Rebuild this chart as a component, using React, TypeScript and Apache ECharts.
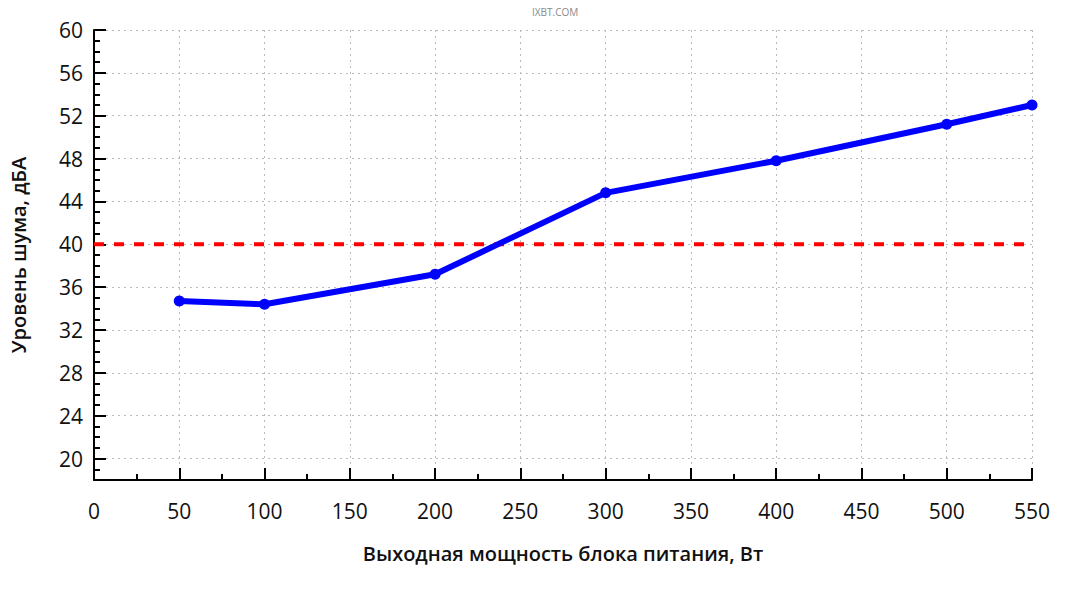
import React, { useEffect, useRef } from "react";
import * as echarts from "echarts";

const powerW = [50, 100, 200, 300, 400, 500, 550];
const noiseDb = [34.7, 34.4, 37.2, 44.8, 47.8, 51.2, 53.0];
const thresholdDb = 40;
const xRange = [0, 550];
const yRange = [18, 60];
const yLabelValues = [20, 24, 28, 32, 36, 40, 44, 48, 52, 56, 60];
const xTitle = "Выходная мощность блока питания, Вт";
const yTitle = "Уровень шума, дБА";
const watermark = "IXBT.COM";

const FONT = "'Open Sans', 'Noto Sans', sans-serif";

export default function App() {
  const ref = useRef<HTMLDivElement>(null);
  useEffect(() => {
    document.body.style.margin = "0";
    const chart = echarts.init(ref.current!, null, { renderer: "svg" });
    const option: any = {
      animation: false,
      backgroundColor: "#fff",
      textStyle: { fontFamily: FONT },
      graphic: [
        {
          type: "text",
          left: 532,
          top: 7,
          style: { text: watermark, fill: "#8a8a8a", font: `10px ${FONT}` },
        },
      ],
      grid: { left: 94, top: 30, right: 34, bottom: 120 },
      xAxis: {
        type: "value",
        min: xRange[0],
        max: xRange[1],
        interval: 50,
        name: xTitle,
        nameLocation: "middle",
        nameGap: 63,
        nameTextStyle: { fontSize: 20, fontWeight: 600, color: "#111", fontFamily: FONT },
        axisLine: { show: true, onZero: false, lineStyle: { color: "#000", width: 2 } },
        axisTick: { show: true, inside: true, length: 12, lineStyle: { color: "#000", width: 2 } },
        minorTick: { show: true, splitNumber: 2, length: 6, lineStyle: { color: "#000", width: 2 } },
        axisLabel: { fontSize: 21, color: "#111", margin: 20, fontFamily: FONT },
        splitLine: { show: true, lineStyle: { color: "#bbb", type: [2, 4], width: 1 } },
      },
      yAxis: [
        {
          type: "value",
          min: yRange[0],
          max: yRange[1],
          interval: 1,
          axisLine: { show: true, onZero: false, lineStyle: { color: "#000", width: 2 } },
          axisTick: { show: true, inside: true, length: 6, lineStyle: { color: "#000", width: 2 } },
          axisLabel: { show: false },
          splitLine: { show: false },
        },
        {
          type: "value",
          min: yRange[0],
          max: yRange[1],
          position: "left",
          name: yTitle,
          nameLocation: "middle",
          nameGap: 66,
          nameTextStyle: { fontSize: 20, fontWeight: 600, color: "#111", fontFamily: FONT },
          axisLine: { show: false },
          axisTick: {
            show: true,
            inside: true,
            length: 12,
            customValues: yLabelValues,
            lineStyle: { color: "#000", width: 2 },
          },
          axisLabel: { fontSize: 21, color: "#111", margin: 11, customValues: yLabelValues, fontFamily: FONT },
          splitLine: { show: true, lineStyle: { color: "#bbb", type: [2, 4], width: 1 } },
        },
      ],
      series: [
        {
          type: "line",
          yAxisIndex: 0,
          data: [
            [xRange[0], thresholdDb],
            [xRange[1], thresholdDb],
          ],
          showSymbol: false,
          symbol: "none",
          lineStyle: { color: "#ff0000", width: 4, type: [10, 10] },
          z: 3,
        },
        {
          type: "line",
          yAxisIndex: 0,
          data: powerW.map((x, i) => [x, noiseDb[i]]),
          symbol: "circle",
          symbolSize: 11,
          itemStyle: { color: "#0000ff" },
          lineStyle: { color: "#0000ff", width: 6 },
          z: 4,
        },
      ],
    };
    chart.setOption(option);
    return () => chart.dispose();
  }, []);
  return <div ref={ref} style={{ width: 1066, height: 600 }} />;
}
